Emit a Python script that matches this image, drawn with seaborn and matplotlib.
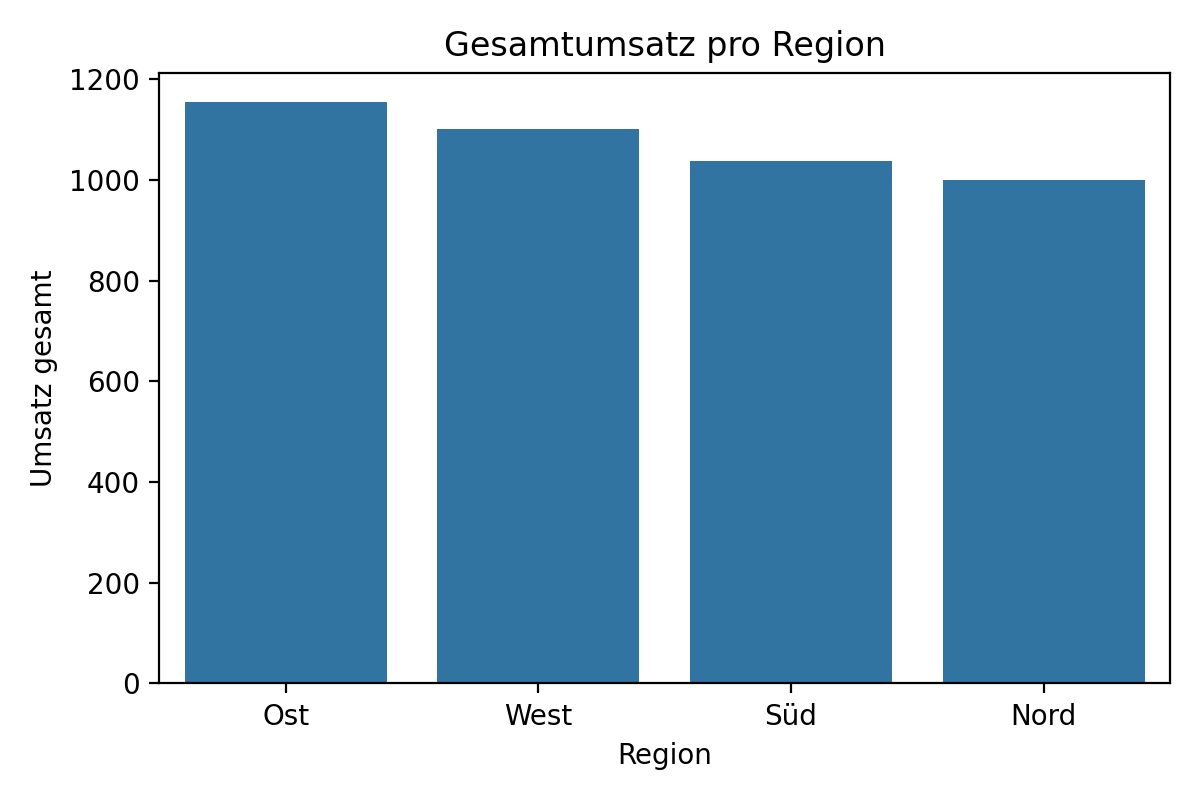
import matplotlib
matplotlib.use("Agg")
import matplotlib.pyplot as plt
import seaborn as sns
import pandas as pd

regions = ["Ost", "West", "Süd", "Nord"]
umsatz = [1155, 1101, 1038, 1000]

df = pd.DataFrame({"Region": regions, "Umsatz gesamt": umsatz})

fig, ax = plt.subplots(figsize=(6, 4), dpi=200)
sns.barplot(data=df, x="Region", y="Umsatz gesamt", color="#1f77b4", ax=ax)
ax.set_title("Gesamtumsatz pro Region")
ax.set_xlabel("Region")
ax.set_ylabel("Umsatz gesamt")
fig.tight_layout()
fig.savefig("out.png", dpi=200)
